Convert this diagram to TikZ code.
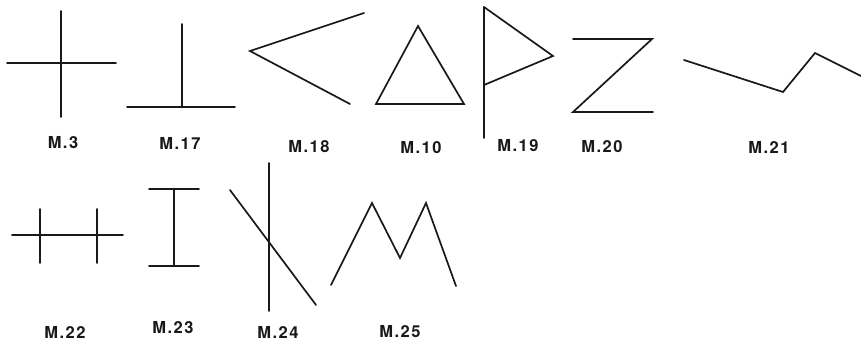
\documentclass[tikz,border=0pt]{standalone}
\usepackage{fontspec}
\setmainfont{TeX Gyre Heros}
\newfontfamily\labelfont[LetterSpace=9]{TeX Gyre Heros}
\usepackage{tikz}
\usetikzlibrary{positioning}
\definecolor{inkdark}{RGB}{25,25,25}
\tikzset{
  signline/.style={draw=inkdark, line width=1.7pt, line cap=round, line join=miter},
  thickline/.style={draw=inkdark, line width=2.6pt},
  signlabel/.style={font=\labelfont\bfseries\fontsize{16.5}{18}\selectfont, text=inkdark, inner sep=0pt}
}
\begin{document}
\begin{tikzpicture}[x=1pt, y=-1pt]
  \useasboundingbox (0,0) rectangle (861,341);
  % first row
  \draw[signline] (7,63) -- (116,63);
  \draw[signline] (61,11) -- (61,117);
  \node[signlabel] (m3) at (63,143) {M.3};

  \draw[signline] (182,24) -- (182,107);
  \draw[signline] (127,107) -- (235,107);
  \node[signlabel] (m17) at (180,143) {M.17};

  \draw[signline] (364,13) -- (250,51) -- (350,104);
  \node[signlabel] (m18) at (309,147) {M.18};

  \draw[signline] (418,26) -- (376,104) -- (464,104) -- cycle;
  \node[signlabel] (m10) at (421,148) {M.10};

  \draw[signline] (484,7) -- (484,138);
  \draw[signline] (484,7) -- (553,56) -- (484,85);
  \node[signlabel] (m19) at (518,146) {M.19};

  \draw[signline] (573,39) -- (652,39) -- (573,112) -- (653,112);
  \node[signlabel] (m20) at (602,147) {M.20};

  \draw[signline] (684,60) -- (783,92) -- (815,53) -- (861,76);
  \node[signlabel] (m21) at (769,147) {M.21};

  % second row
  \draw[signline] (12,235) -- (123,235);
  \draw[signline] (40,209) -- (40,263);
  \draw[signline] (97,209) -- (97,263);
  \node[signlabel] (m22) at (65,332) {M.22};

  \draw[signline] (149,189) -- (199,189);
  \draw[signline] (149,266) -- (199,266);
  \draw[thickline] (174,189) -- (174,266);
  \node[signlabel] (m23) at (173,328) {M.23};

  \draw[signline] (269,163) -- (269,311);
  \draw[signline] (230,190) -- (316,305);
  \node[signlabel] (m24) at (278,332) {M.24};

  \draw[signline] (331,285) -- (372,203) -- (400,258) -- (426,203) -- (456,286);
  \node[signlabel] (m25) at (400,332) {M.25};
\end{tikzpicture}
\end{document}
